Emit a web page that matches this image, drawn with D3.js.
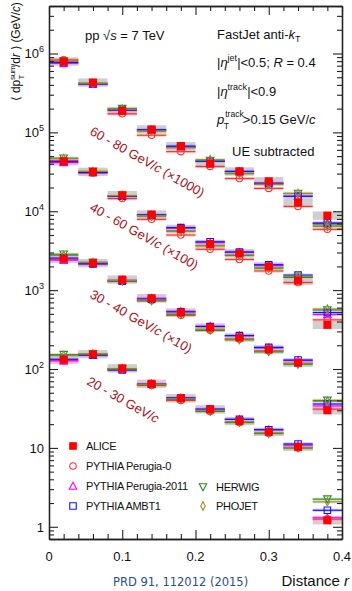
<!DOCTYPE html>
<html>
<head>
<meta charset="utf-8">
<script src="https://cdn.jsdelivr.net/npm/d3@7"></script>
<style>
  body { margin: 0; background: #fff; }
  svg { display: block; font-family: "Liberation Sans", Arial, sans-serif; }
</style>
</head>
<body>
<div id="rootDiv"></div>
<script>
// bin centres in r (bins are 0.04 wide)
const rCentres = [0.02, 0.06, 0.10, 0.14, 0.18, 0.22, 0.26, 0.30, 0.34, 0.38];
const binWidth = 0.04;

// jet pT intervals and the factor each one is scaled by on the plot
const ptLabels = ["20 - 30", "30 - 40", "40 - 60", "60 - 80"];
const ptScales = [1, 10, 100, 1000];

// values before scaling, one row per pT interval
const aliceVals = [
    [131, 154, 102, 65, 42.6, 30.8, 21.9, 16.0, 10.3, 1.21],
    [250, 220, 136, 79, 52.1, 33.6, 25.1, 17.7, 12.0, 3.0],
    [430, 316, 160, 91, 59.7, 38.5, 29.3, 20.0, 13.2, 3.63],
    [790, 428, 187, 109, 67, 40, 31.9, 24.0, 13.0, 8.8]
];
const perugia0Vals = [
    [128, 150, 98, 62, 40, 29, 21, 15.3, 10.0, 1.25],
    [245, 215, 130, 74, 48, 31, 24, 17.0, 11.8, 3.1],
    [440, 305, 145, 79, 50, 33, 24.5, 17.5, 12.5, 4.2],
    [830, 415, 172, 92, 57, 37, 26, 19.5, 11.5, 5.9]
];
const perugia2011Vals = [
    [127, 152, 100, 65, 43, 31, 23, 17, 10.8, 1.30],
    [240, 220, 134, 79, 54, 35, 26.5, 18.5, 12.8, 3.4],
    [415, 310, 155, 90, 61, 40, 30, 20.5, 14.5, 4.9],
    [750, 410, 190, 108, 66, 43, 32, 23, 15.5, 7.0]
];
const ambt1Vals = [
    [133, 150, 97, 64, 43, 31, 23, 17, 11.2, 1.62],
    [255, 215, 130, 77, 53, 34.5, 26.5, 18.8, 13.0, 3.6],
    [425, 310, 155, 90, 62, 41, 30.5, 21, 15.5, 5.2],
    [770, 410, 192, 108, 67, 43, 32, 22.5, 15.5, 7.1]
];
const herwigVals = [
    [152, 155, 100, 63, 41, 29, 21, 15.2, 10.0, 2.24],
    [285, 225, 130, 73, 49, 31, 23.5, 16.5, 11.5, 4.0],
    [470, 320, 158, 87, 56, 36.5, 27.5, 19, 14.5, 5.6],
    [800, 420, 200, 104, 64, 44, 30, 22, 16.8, 6.7]
];
const phojetVals = [
    [148, 156, 101, 64, 42, 30, 21.5, 15.5, 10.2, 2.07],
    [275, 225, 132, 75, 50, 32, 24, 17, 11.8, 3.9],
    [465, 320, 158, 88, 57, 37, 28, 19.5, 15.0, 5.75],
    [800, 420, 198, 104, 64, 45, 30.5, 22, 16.8, 6.4]
];

const xTicks = [0, 0.1, 0.2, 0.3, 0.4];
const yDecades = [1, 10, 100, 1000, 10000, 100000, 1000000];

const W = 352, H = 591;
const x = d3.scaleLinear().domain([0, 0.4]).range([49, 342]);
const y = d3.scaleLog().domain([0.7, 4e6]).range([539, 6]);

const svg = d3.select("#rootDiv").append("svg")
    .attr("width", W).attr("height", H);

const models = [
    { name: "PYTHIA Perugia-0", vals: perugia0Vals, color: "#ff3030", band: "#ff9a9a", sym: "circle" },
    { name: "PYTHIA Perugia-2011", vals: perugia2011Vals, color: "#ff00ff", band: "#ff9cff", sym: "triangle" },
    { name: "PYTHIA AMBT1", vals: ambt1Vals, color: "#1010ff", band: "#a0a0ff", sym: "square" },
    { name: "HERWIG", vals: herwigVals, color: "#2a8a2a", band: "#a8d8a8", sym: "triangleDown" },
    { name: "PHOJET", vals: phojetVals, color: "#9a8a2a", band: "#d8cc98", sym: "diamond" }
];

function symPath(sym, s) {
    const h = s / 2;
    if (sym === "circle") return d3.symbol(d3.symbolCircle, s * s * 0.78)();
    if (sym === "square") return `M${-h},${-h}H${h}V${h}H${-h}Z`;
    if (sym === "triangle") return `M0,${-h - 0.5}L${h + 0.5},${h}L${-h - 0.5},${h}Z`;
    if (sym === "triangleDown") return `M0,${h + 0.5}L${h + 0.5},${-h}L${-h - 0.5},${-h}Z`;
    if (sym === "diamond") return `M0,${-h - 1}L${h - 1},0L0,${h + 1}L${-h + 1},0Z`;
}

// flatten into point records
const points = [];
ptScales.forEach((sc, k) => {
    rCentres.forEach((r, i) => points.push({ k, i, r, v: aliceVals[k][i] * sc, sc }));
});

const plot = svg.append("g");

// ALICE systematic boxes
plot.selectAll("rect.sys").data(points).enter().append("rect")
    .attr("class", "sys")
    .attr("x", d => x(d.r - binWidth / 2))
    .attr("width", d => x(d.r + binWidth / 2) - x(d.r - binWidth / 2))
    .attr("y", d => y(d.v * 1.13))
    .attr("height", d => y(d.v / 1.13) - y(d.v * 1.13))
    .attr("fill", "#cfcfcf");

// model bands + lines
models.forEach(m => {
    const mp = points.map(p => ({ r: p.r, v: m.vals[p.k][p.i] * p.sc }));
    plot.append("g").selectAll("rect").data(mp).enter().append("rect")
        .attr("x", d => x(d.r - binWidth / 2))
        .attr("width", d => x(d.r + binWidth / 2) - x(d.r - binWidth / 2))
        .attr("y", d => y(d.v * 1.05))
        .attr("height", d => y(d.v / 1.05) - y(d.v * 1.05))
        .attr("fill", m.band).attr("opacity", 0.45);
});
models.forEach(m => {
    const mp = points.map(p => ({ r: p.r, v: m.vals[p.k][p.i] * p.sc }));
    plot.append("g").selectAll("line").data(mp).enter().append("line")
        .attr("x1", d => x(d.r - binWidth / 2))
        .attr("x2", d => x(d.r + binWidth / 2))
        .attr("y1", d => y(d.v)).attr("y2", d => y(d.v))
        .attr("stroke", m.color).attr("stroke-width", 1.2);
});
models.forEach(m => {
    const mp = points.map(p => ({ r: p.r, v: m.vals[p.k][p.i] * p.sc }));
    plot.append("g").selectAll("path").data(mp).enter().append("path")
        .attr("transform", d => `translate(${x(d.r)},${y(d.v)})`)
        .attr("d", symPath(m.sym, 6.5))
        .attr("fill", "none").attr("stroke", m.color).attr("stroke-width", 1.1);
});

// ALICE points with stat errors
plot.append("g").selectAll("line").data(points).enter().append("line")
    .attr("x1", d => x(d.r)).attr("x2", d => x(d.r))
    .attr("y1", d => y(d.v * 1.07)).attr("y2", d => y(d.v / 1.07))
    .attr("stroke", "#ff0000").attr("stroke-width", 1);
plot.append("g").selectAll("rect").data(points).enter().append("rect")
    .attr("x", d => x(d.r) - 4).attr("y", d => y(d.v) - 4)
    .attr("width", 8).attr("height", 8)
    .attr("fill", "#ff0000");

// ---- axes (ticks point inwards on all four sides)
const minorY = [];
yDecades.forEach(dec => { for (let m = 1; m < 10; m++) minorY.push(dec * m); });
const minorYIn = minorY.filter(v => v >= 0.7 && v <= 4e6 && !yDecades.includes(v));
[0.7, 0.8, 0.9].forEach(v => minorYIn.push(v));
const minorX = d3.range(0, 0.4001, 0.02).filter(v => !xTicks.some(t => Math.abs(t - v) < 1e-6));

function styleAxis(g) {
    g.selectAll("path").attr("stroke", "#222").attr("stroke-width", 1.3);
    g.selectAll("line").attr("stroke", "#222").attr("stroke-width", 1.1);
    g.selectAll("text").remove();
}

svg.append("g").attr("transform", "translate(49,0)")
    .call(d3.axisLeft(y).tickValues(yDecades).tickSizeInner(-9).tickSizeOuter(0)).call(styleAxis);
svg.append("g").attr("transform", "translate(49,0)")
    .call(d3.axisLeft(y).tickValues(minorYIn).tickSizeInner(-5).tickSizeOuter(0)).call(styleAxis);
svg.append("g").attr("transform", "translate(342,0)")
    .call(d3.axisRight(y).tickValues(yDecades).tickSizeInner(-9).tickSizeOuter(0)).call(styleAxis);
svg.append("g").attr("transform", "translate(342,0)")
    .call(d3.axisRight(y).tickValues(minorYIn).tickSizeInner(-5).tickSizeOuter(0)).call(styleAxis);
svg.append("g").attr("transform", "translate(0,539)")
    .call(d3.axisBottom(x).tickValues(xTicks).tickSizeInner(-9).tickSizeOuter(0)).call(styleAxis);
svg.append("g").attr("transform", "translate(0,539)")
    .call(d3.axisBottom(x).tickValues(minorX).tickSizeInner(-5).tickSizeOuter(0)).call(styleAxis);
svg.append("g").attr("transform", "translate(0,6)")
    .call(d3.axisTop(x).tickValues(xTicks).tickSizeInner(-9).tickSizeOuter(0)).call(styleAxis);
svg.append("g").attr("transform", "translate(0,6)")
    .call(d3.axisTop(x).tickValues(minorX).tickSizeInner(-5).tickSizeOuter(0)).call(styleAxis);

// tick labels
svg.append("g").selectAll("text").data(xTicks).enter().append("text")
    .attr("x", d => x(d)).attr("y", 561)
    .attr("text-anchor", "middle").attr("font-size", 13).attr("fill", "#111")
    .text(d => d === 0 ? "0" : d.toString());

const yl = svg.append("g").selectAll("text").data(yDecades).enter().append("text")
    .attr("x", 44).attr("y", d => y(d) + 5)
    .attr("text-anchor", "end").attr("font-size", 13).attr("fill", "#111");
yl.each(function (d) {
    const e = Math.round(Math.log10(d));
    const t = d3.select(this);
    if (e < 2) { t.text(d); return; }
    t.append("tspan").text("10");
    t.append("tspan").attr("dy", -6).attr("font-size", 9).text(e);
});

// y title
const yt = svg.append("text").attr("transform", "translate(20,101) rotate(-90)")
    .attr("font-size", 12).attr("letter-spacing", -0.2).attr("fill", "#111");
yt.append("tspan").text("\u27E8 dp");
yt.append("tspan").attr("dy", -5).attr("font-size", 8).text("sum");
yt.append("tspan").attr("dx", -14).attr("dy", 9).attr("font-size", 8).text("T");
yt.append("tspan").attr("dx", 8).attr("dy", -4).text("/d");
yt.append("tspan").attr("font-style", "italic").text("r");
yt.append("tspan").text(" \u27E9 (GeV/");
yt.append("tspan").attr("font-style", "italic").text("c");
yt.append("tspan").text(")");

// x title and reference
const xt = svg.append("text").attr("x", 349).attr("y", 586)
    .attr("text-anchor", "end").attr("font-size", 15).attr("fill", "#111");
xt.append("tspan").text("Distance ");
xt.append("tspan").attr("font-style", "italic").text("r");
svg.append("text").attr("x", 113).attr("y", 586)
    .attr("font-family", "DejaVu Sans").attr("font-size", 11.5).attr("fill", "#2b4f8a")
    .text("PRD 91, 112012 (2015)");

// pT interval labels along the curves
const labelPos = [[86, 384], [89, 297], [89, 210], [89, 134]];
ptLabels.forEach((lab, k) => {
    const t = svg.append("text")
        .attr("transform", `translate(${labelPos[k][0]},${labelPos[k][1]}) rotate(29.5)`)
        .attr("font-size", 13).attr("fill", "#a3141c");
    t.append("tspan").text(lab + " GeV/");
    t.append("tspan").attr("font-style", "italic").text("c");
    if (ptScales[k] > 1) t.append("tspan").text(" (\u00D7" + ptScales[k] + ")");
});

// info text
const info = svg.append("g").attr("font-size", 13).attr("fill", "#111");
const t1 = info.append("text").attr("x", 85).attr("y", 40);
t1.append("tspan").text("pp \u221A");
t1.append("tspan").attr("font-style", "italic").text("s");
t1.append("tspan").text(" = 7 TeV");
const t2 = info.append("text").attr("x", 217).attr("y", 39);
t2.append("tspan").text("FastJet anti-");
t2.append("tspan").attr("font-style", "italic").text("k");
t2.append("tspan").attr("dy", 3).attr("font-size", 9).text("T");
const t3 = info.append("text").attr("x", 217).attr("y", 67);
t3.append("tspan").text("|");
t3.append("tspan").attr("font-style", "italic").text("\u03B7");
t3.append("tspan").attr("dy", -6).attr("font-size", 9).text("jet");
t3.append("tspan").attr("dy", 6).text("|<0.5; ");
t3.append("tspan").attr("font-style", "italic").text("R");
t3.append("tspan").text(" = 0.4");
const t4 = info.append("text").attr("x", 217).attr("y", 96);
t4.append("tspan").text("|");
t4.append("tspan").attr("font-style", "italic").text("\u03B7");
t4.append("tspan").attr("dy", -6).attr("font-size", 9).text("track");
t4.append("tspan").attr("dy", 6).text("|<0.9");
const t5 = info.append("text").attr("x", 217).attr("y", 124);
t5.append("tspan").attr("font-style", "italic").text("p");
t5.append("tspan").attr("dx", 1).attr("dy", -7).attr("font-size", 8.5).text("track");
t5.append("tspan").attr("dx", -20).attr("dy", 12).attr("font-size", 8.5).text("T");
t5.append("tspan").attr("dx", 14).attr("dy", -5).text(">0.15 GeV/");
t5.append("tspan").attr("font-style", "italic").text("c");
info.append("text").attr("x", 232).attr("y", 156).text("UE subtracted");

// legend
const legendItems = [
    { name: "ALICE", sym: "square", color: "#ff0000", fill: true, x: 73, y: 446 },
    { name: models[0].name, sym: models[0].sym, color: models[0].color, x: 73, y: 466 },
    { name: models[1].name, sym: models[1].sym, color: models[1].color, x: 73, y: 486 },
    { name: models[2].name, sym: models[2].sym, color: models[2].color, x: 73, y: 506 },
    { name: models[3].name, sym: models[3].sym, color: models[3].color, x: 203, y: 487 },
    { name: models[4].name, sym: models[4].sym, color: models[4].color, x: 203, y: 506 }
];
const leg = svg.append("g").selectAll("g").data(legendItems).enter().append("g")
    .attr("transform", d => `translate(${d.x},${d.y})`);
leg.append("path")
    .attr("d", d => symPath(d.sym, 6.5))
    .attr("fill", d => d.fill ? d.color : "none")
    .attr("stroke", d => d.color).attr("stroke-width", 1.1);
leg.append("text").attr("x", 13).attr("y", 4)
    .attr("font-size", 11).attr("letter-spacing", -0.3).attr("fill", "#111")
    .text(d => d.name);
</script>
</body>
</html>
